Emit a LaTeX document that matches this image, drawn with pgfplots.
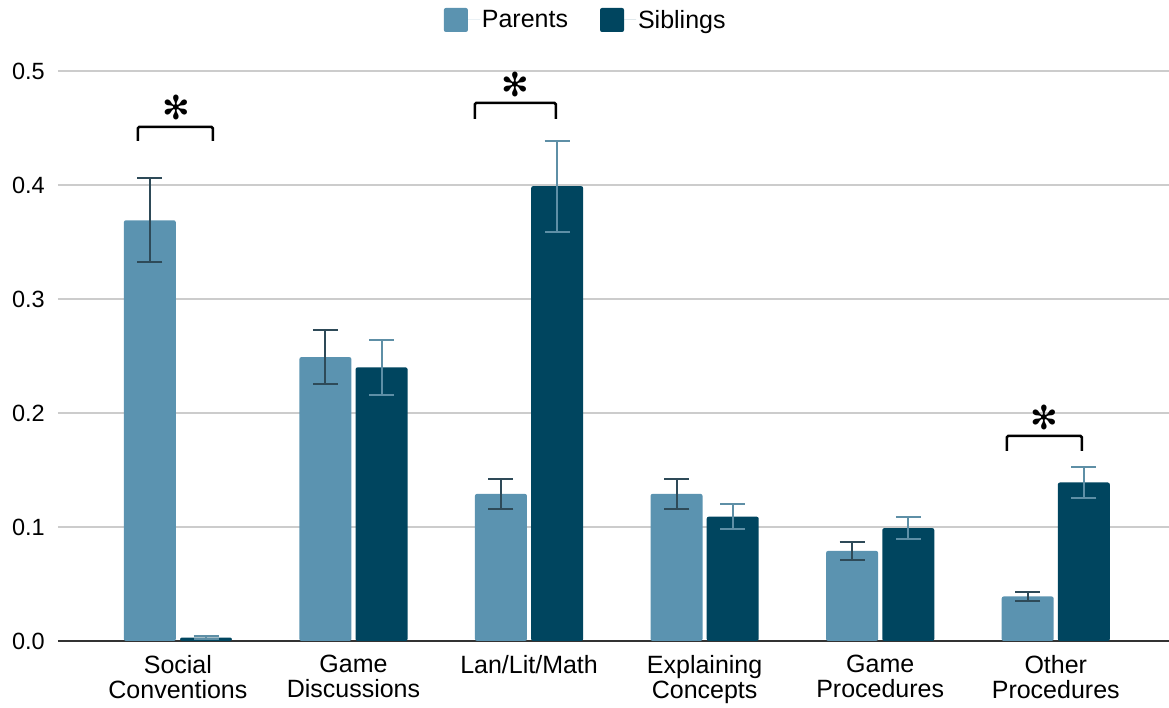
\documentclass[border=0pt]{standalone}
\usepackage{pgfplots}
\pgfplotsset{compat=1.18}
\usepackage{pgfplotstable}
\usepackage{fontspec}
\setmainfont{Liberation Sans}
\newfontfamily\symfont{DejaVu Sans}
\usetikzlibrary{calc}
\definecolor{parents}{HTML}{5B93B0}
\definecolor{siblings}{HTML}{00455F}
\definecolor{perr}{HTML}{2E4A58}
\definecolor{serr}{HTML}{5E8FA6}
\definecolor{gridc}{HTML}{CCCCCC}
\definecolor{axc}{HTML}{333333}

\pgfplotstableread{
x y e
0 0.369 0.037
1 0.249 0.024
2 0.129 0.013
3 0.129 0.013
4 0.079 0.008
5 0.039 0.004
}\parentsdata

\pgfplotstableread{
x y e
0 0.003 0.001
1 0.240 0.024
2 0.399 0.040
3 0.109 0.011
4 0.099 0.010
5 0.139 0.014
}\siblingsdata

\begin{document}
\begin{tikzpicture}
\begin{axis}[
  scale only axis, width=1111pt, height=570pt,
  xmin=-0.683, xmax=5.645, ymin=0, ymax=0.5,
  clip=false,
  ybar,
  axis x line*=bottom,
  axis y line*=left,
  y axis line style={draw=none},
  x axis line style={axc, line width=1.8pt, -},
  major tick length=0pt,
  xtick={0,1,2,3,4,5},
  xticklabels={{Social\\Conventions},{Game\\Discussions},{Lan/Lit/Math},{Explaining\\Concepts},{Game\\Procedures},{Other\\Procedures}},
  xticklabel style={align=center, inner sep=0pt, yshift=-14pt, font=\fontsize{25}{25}\selectfont},
  ytick={0,0.1,0.2,0.3,0.4,0.5},
  yticklabel style={inner sep=0pt, xshift=-13pt, font=\fontsize{23.5}{24}\selectfont,
    /pgf/number format/.cd, fixed, fixed zerofill, precision=1, assume math mode=true},
  ymajorgrids,
  grid style={gridc, line width=1.3pt},
  legend style={at={(0.475,1.0895)}, anchor=center, draw=none, fill=none,
    legend columns=2, font=\fontsize{25}{25}\selectfont,
    /tikz/every even column/.append style={column sep=30pt}},
  legend image code/.code={\fill[#1, rounded corners=2pt] (0pt,-12pt) rectangle (24pt,12pt); \path (24pt,0pt) -- (36pt,0pt);},
]
\addplot[fill=parents, draw=none, bar width=0.296, bar shift=-0.16, rounded corners=2pt,
  error bars/.cd, y dir=both, y explicit,
  error bar style={perr, line width=2pt, rounded corners=0pt},
  error mark options={perr, line width=2pt, mark size=12.5pt, rotate=90}]
  table[x=x, y=y, y error=e] {\parentsdata};
\addlegendentry{Parents}
\addplot[fill=siblings, draw=none, bar width=0.296, bar shift=0.16, rounded corners=2pt,
  error bars/.cd, y dir=both, y explicit,
  error bar style={serr, line width=2pt, rounded corners=0pt},
  error mark options={serr, line width=2pt, mark size=12.5pt, rotate=90}]
  table[x=x, y=y, y error=e] {\siblingsdata};
\addlegendentry{Siblings}

% significance brackets
\draw[black, line width=2.5pt, rounded corners=1.5pt] (axis cs:-0.228,0.4386) -- (axis cs:-0.228,0.451) -- (axis cs:0.199,0.451) -- (axis cs:0.199,0.4386);
\node[inner sep=0pt, font=\symfont\fontsize{33}{33}\selectfont] at (axis cs:-0.011,0.468) {✻};
\draw[black, line width=2.5pt, rounded corners=1.5pt] (axis cs:1.691,0.458) -- (axis cs:1.691,0.472) -- (axis cs:2.153,0.472) -- (axis cs:2.153,0.458);
\node[inner sep=0pt, font=\symfont\fontsize{33}{33}\selectfont] at (axis cs:1.919,0.488) {✻};
\draw[black, line width=2.5pt, rounded corners=1.5pt] (axis cs:4.721,0.1667) -- (axis cs:4.721,0.180) -- (axis cs:5.148,0.180) -- (axis cs:5.148,0.1667);
\node[inner sep=0pt, font=\symfont\fontsize{33}{33}\selectfont] at (axis cs:4.937,0.196) {✻};
\end{axis}
\pgfresetboundingbox
\path ($(current axis.south west)+(-58pt,-67pt)$) rectangle ($(current axis.north east)+(0pt,71pt)$);
\end{tikzpicture}
\end{document}
